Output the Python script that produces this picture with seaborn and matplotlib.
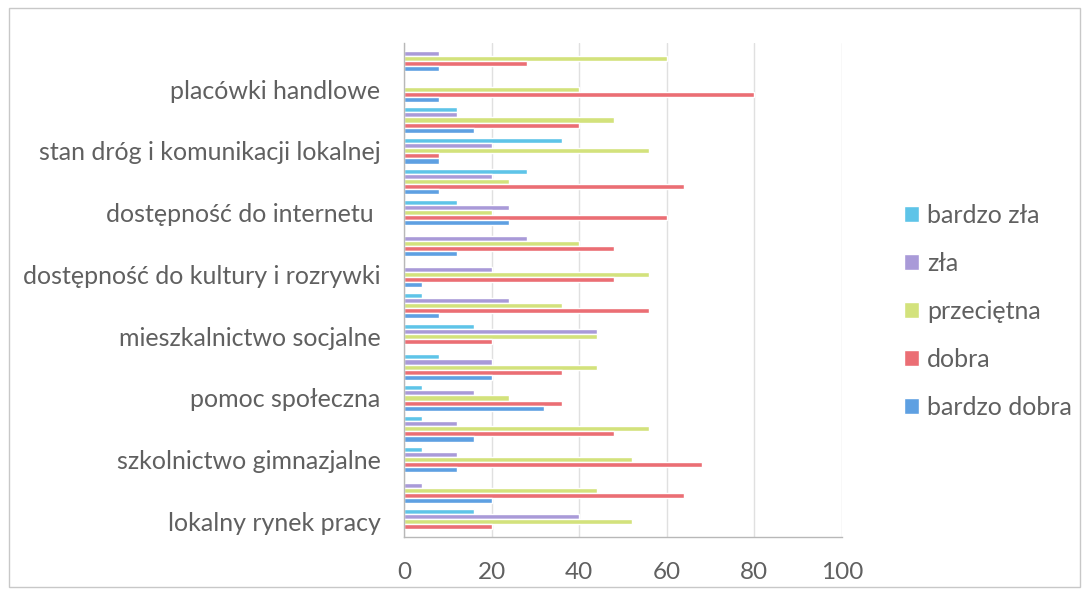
import matplotlib
matplotlib.use("Agg")
import matplotlib.pyplot as plt
import seaborn as sns
import pandas as pd
from matplotlib.patches import Rectangle

# categories from top to bottom (every other category has no visible label)
categories = [
    "kat. 16", "placówki handlowe",
    "kat. 14", "stan dróg i komunikacji lokalnej",
    "kat. 12", "dostępność do internetu ",
    "kat. 10", "dostępność do kultury i rozrywki",
    "kat. 8", "mieszkalnictwo socjalne",
    "kat. 6", "pomoc społeczna",
    "kat. 4", "szkolnictwo gimnazjalne",
    "kat. 2", "lokalny rynek pracy",
]
shown = [False, True] * 8

series = ["bardzo zła", "zła", "przeciętna", "dobra", "bardzo dobra"]
bardzo_zla   = [0, 0, 12, 36, 28, 12, 0, 0, 4, 16, 8, 4, 4, 4, 0, 16]
zla          = [8, 0, 12, 20, 20, 24, 28, 20, 24, 44, 20, 16, 12, 12, 4, 40]
przecietna   = [60, 40, 48, 56, 24, 20, 40, 56, 36, 44, 44, 24, 56, 52, 44, 52]
dobra        = [28, 80, 40, 8, 64, 60, 48, 48, 56, 20, 36, 36, 48, 68, 64, 20]
bardzo_dobra = [8, 8, 16, 8, 8, 24, 12, 4, 8, 0, 20, 32, 16, 12, 20, 0]
x_ticks = [0, 20, 40, 60, 80, 100]

colors = ["#5ec4e8", "#a99ad8", "#d3e27c", "#eb6e74", "#5ea0e2"]

rows = []
for name, vals in zip(series, [bardzo_zla, zla, przecietna, dobra, bardzo_dobra]):
    for c, v in zip(categories, vals):
        rows.append({"kategoria": c, "ocena": name, "wartosc": v})
df = pd.DataFrame(rows)

sns.set_style("white")
plt.rcParams["font.family"] = ["Lato", "DejaVu Sans"]

fig = plt.figure(figsize=(10.89, 5.94), dpi=100)
ax = fig.add_axes([0.371, 0.096, 0.402, 0.832])

sns.barplot(data=df, y="kategoria", x="wartosc", hue="ocena",
            order=categories, hue_order=series, palette=colors,
            orient="h", width=0.82, saturation=1, ax=ax, legend=True)

ax.set_xlim(0, 100)
ax.set_ylim(len(categories) - 0.5, -0.5)
ax.set_xticks(x_ticks)
ax.set_xticklabels([str(t) for t in x_ticks], fontsize=17.5, color="#606060")
ax.set_yticks(range(len(categories)))
ax.set_yticklabels([c if s else "" for c, s in zip(categories, shown)],
                   fontsize=18, color="#606060")
ax.set_yticks([i - 0.5 for i in range(len(categories) + 1)], minor=True)
ax.tick_params(axis="y", which="major", length=0, pad=17)
ax.tick_params(axis="y", which="minor", length=5, color="#b8b8b8", direction="out")
ax.tick_params(axis="x", which="major", length=5, color="#b8b8b8", direction="out", pad=13)
ax.set_xlabel("")
ax.set_ylabel("")
ax.xaxis.grid(True, color="#e0e0e0", linewidth=1)
ax.set_axisbelow(True)
for s in ["top", "right"]:
    ax.spines[s].set_visible(False)
for s in ["left", "bottom"]:
    ax.spines[s].set_color("#b8b8b8")
    ax.spines[s].set_linewidth(1)

leg = ax.legend(loc="center left", bbox_to_anchor=(1.12, 0.457), frameon=False,
                fontsize=18, labelspacing=1.0, handlelength=0.6, handleheight=0.6,
                handletextpad=0.3, borderaxespad=0)
for t in leg.get_texts():
    t.set_color("#606060")

fig.patches.append(Rectangle((0.008, 0.012), 0.984, 0.975, transform=fig.transFigure,
                             fill=False, edgecolor="#c8c8c8", linewidth=1))

fig.savefig("out.png", dpi=100, facecolor="white")
